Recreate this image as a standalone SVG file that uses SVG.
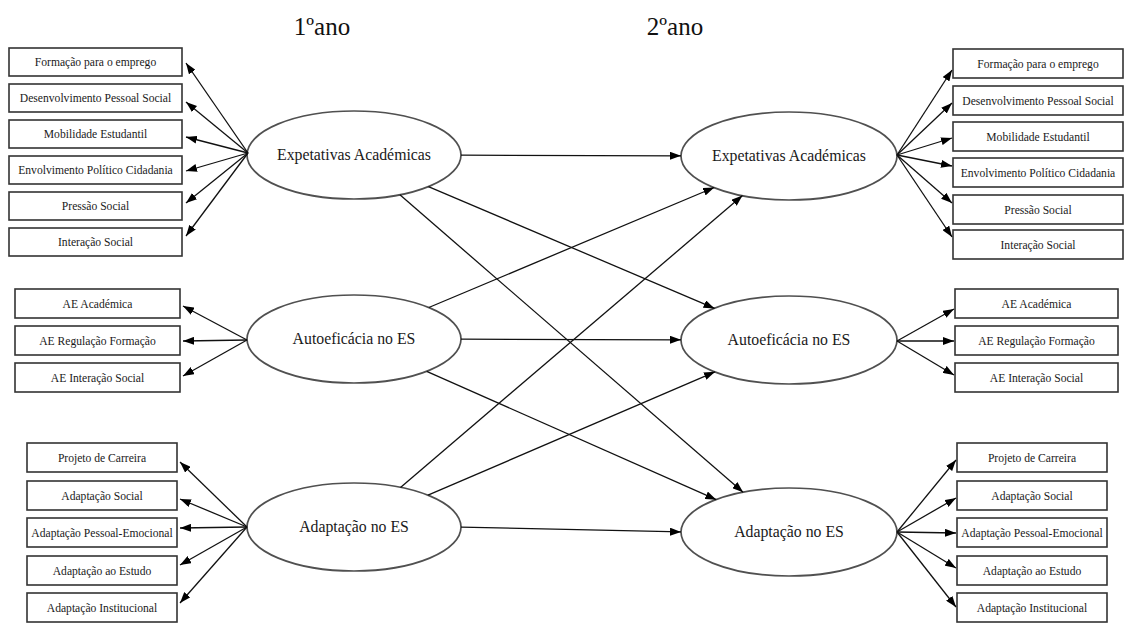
<svg xmlns="http://www.w3.org/2000/svg" width="1126" height="641" viewBox="0 0 1126 641">
  <style>
    .box { fill: #ffffff; stroke: #333333; stroke-width: 1.6; }
    .lat { fill: #ffffff; stroke: #505050; stroke-width: 1.7; }
    .btxt { font-family: "Liberation Serif", "Times New Roman", serif; font-size: 11.6px; fill: #1a1a1a; text-anchor: middle; }
    .ltxt { font-family: "Liberation Serif", "Times New Roman", serif; font-size: 15.8px; fill: #1a1a1a; text-anchor: middle; }
    .title { font-family: "Liberation Serif", "Times New Roman", serif; font-size: 25px; fill: #111111; text-anchor: middle; }
    .arr { stroke: #111111; stroke-width: 1.3; fill: none; marker-end: url(#head); }
  </style>
  <defs>
    <marker id="head" markerUnits="userSpaceOnUse" markerWidth="11" markerHeight="8" refX="11" refY="4" orient="auto">
      <path d="M0,0 L11,4 L0,8 z" fill="#000000"/>
    </marker>
  </defs>
  <rect width="1126" height="641" fill="#ffffff"/>

  <text class="title" x="322" y="35">1ºano</text>
  <text class="title" x="675" y="35">2ºano</text>

  <!-- year 1 indicators -->
  <g id="y1-expetativas-indicadores">
    <rect class="box" x="9" y="48" width="173" height="28"/><text class="btxt" x="95.5" y="66">Formação para o emprego</text>
    <rect class="box" x="9" y="84" width="173" height="28"/><text class="btxt" x="95.5" y="102">Desenvolvimento Pessoal Social</text>
    <rect class="box" x="9" y="120" width="173" height="28"/><text class="btxt" x="95.5" y="138">Mobilidade Estudantil</text>
    <rect class="box" x="9" y="156" width="173" height="28"/><text class="btxt" x="95.5" y="174">Envolvimento Político Cidadania</text>
    <rect class="box" x="9" y="192" width="173" height="28"/><text class="btxt" x="95.5" y="210">Pressão Social</text>
    <rect class="box" x="9" y="228" width="173" height="28"/><text class="btxt" x="95.5" y="246">Interação Social</text>
  </g>
  <g id="y1-autoeficacia-indicadores">
    <rect class="box" x="15" y="289" width="165" height="29"/><text class="btxt" x="97.5" y="307.5">AE Académica</text>
    <rect class="box" x="15" y="326" width="165" height="29"/><text class="btxt" x="97.5" y="344.5">AE Regulação Formação</text>
    <rect class="box" x="15" y="363" width="165" height="29"/><text class="btxt" x="97.5" y="381.5">AE Interação Social</text>
  </g>
  <g id="y1-adaptacao-indicadores">
    <rect class="box" x="27" y="443" width="150" height="29"/><text class="btxt" x="102" y="461.5">Projeto de Carreira</text>
    <rect class="box" x="27" y="481" width="150" height="29"/><text class="btxt" x="102" y="499.5">Adaptação Social</text>
    <rect class="box" x="27" y="518" width="150" height="29"/><text class="btxt" x="102" y="536.5">Adaptação Pessoal-Emocional</text>
    <rect class="box" x="27" y="556" width="150" height="29"/><text class="btxt" x="102" y="574.5">Adaptação ao Estudo</text>
    <rect class="box" x="27" y="593" width="150" height="29"/><text class="btxt" x="102" y="611.5">Adaptação Institucional</text>
  </g>

  <!-- year 2 indicators -->
  <g id="y2-expetativas-indicadores">
    <rect class="box" x="953" y="49" width="170" height="29"/><text class="btxt" x="1038" y="67.5">Formação para o emprego</text>
    <rect class="box" x="953" y="86" width="170" height="29"/><text class="btxt" x="1038" y="104.5">Desenvolvimento Pessoal Social</text>
    <rect class="box" x="953" y="122" width="170" height="29"/><text class="btxt" x="1038" y="140.5">Mobilidade Estudantil</text>
    <rect class="box" x="953" y="158" width="170" height="29"/><text class="btxt" x="1038" y="176.5">Envolvimento Político Cidadania</text>
    <rect class="box" x="953" y="195" width="170" height="29"/><text class="btxt" x="1038" y="213.5">Pressão Social</text>
    <rect class="box" x="953" y="230" width="170" height="29"/><text class="btxt" x="1038" y="248.5">Interação Social</text>
  </g>
  <g id="y2-autoeficacia-indicadores">
    <rect class="box" x="955" y="289" width="163" height="29"/><text class="btxt" x="1036.5" y="307.5">AE Académica</text>
    <rect class="box" x="955" y="326" width="163" height="29"/><text class="btxt" x="1036.5" y="344.5">AE Regulação Formação</text>
    <rect class="box" x="955" y="363" width="163" height="29"/><text class="btxt" x="1036.5" y="381.5">AE Interação Social</text>
  </g>
  <g id="y2-adaptacao-indicadores">
    <rect class="box" x="957" y="443" width="150" height="29"/><text class="btxt" x="1032" y="461.5">Projeto de Carreira</text>
    <rect class="box" x="957" y="481" width="150" height="29"/><text class="btxt" x="1032" y="499.5">Adaptação Social</text>
    <rect class="box" x="957" y="518" width="150" height="29"/><text class="btxt" x="1032" y="536.5">Adaptação Pessoal-Emocional</text>
    <rect class="box" x="957" y="556" width="150" height="29"/><text class="btxt" x="1032" y="574.5">Adaptação ao Estudo</text>
    <rect class="box" x="957" y="593" width="150" height="29"/><text class="btxt" x="1032" y="611.5">Adaptação Institucional</text>
  </g>

  <!-- latent factors -->
  <g id="y1-expetativas">
    <ellipse class="lat" cx="354" cy="155" rx="107" ry="44"/>
    <text class="ltxt" x="354" y="160">Expetativas Académicas</text>
  </g>
  <g id="y1-autoeficacia">
    <ellipse class="lat" cx="354" cy="339" rx="107" ry="44"/>
    <text class="ltxt" x="354" y="344">Autoeficácia no ES</text>
  </g>
  <g id="y1-adaptacao">
    <ellipse class="lat" cx="354" cy="527" rx="107" ry="44"/>
    <text class="ltxt" x="354" y="532">Adaptação no ES</text>
  </g>
  <g id="y2-expetativas">
    <ellipse class="lat" cx="789" cy="156" rx="108" ry="44"/>
    <text class="ltxt" x="789" y="161">Expetativas Académicas</text>
  </g>
  <g id="y2-autoeficacia">
    <ellipse class="lat" cx="789" cy="340" rx="108" ry="44"/>
    <text class="ltxt" x="789" y="345">Autoeficácia no ES</text>
  </g>
  <g id="y2-adaptacao">
    <ellipse class="lat" cx="789" cy="532" rx="108" ry="44"/>
    <text class="ltxt" x="789" y="537">Adaptação no ES</text>
  </g>

  <g id="connectors">
    <!-- loadings, year 1 -->
    <line class="arr" x1="248" y1="153" x2="186" y2="63"/>
    <line class="arr" x1="248" y1="153" x2="186" y2="102"/>
    <line class="arr" x1="248" y1="153" x2="186" y2="137"/>
    <line class="arr" x1="248" y1="153" x2="186" y2="171"/>
    <line class="arr" x1="248" y1="153" x2="186" y2="203"/>
    <line class="arr" x1="248" y1="153" x2="186" y2="236"/>

    <line class="arr" x1="247" y1="340" x2="183" y2="306"/>
    <line class="arr" x1="247" y1="340" x2="183" y2="341"/>
    <line class="arr" x1="247" y1="340" x2="183" y2="376"/>

    <line class="arr" x1="247" y1="527" x2="180" y2="462"/>
    <line class="arr" x1="247" y1="527" x2="180" y2="499"/>
    <line class="arr" x1="247" y1="527" x2="180" y2="528"/>
    <line class="arr" x1="247" y1="527" x2="180" y2="565"/>
    <line class="arr" x1="247" y1="527" x2="180" y2="603"/>

    <!-- loadings, year 2 -->
    <line class="arr" x1="897" y1="155" x2="952" y2="70"/>
    <line class="arr" x1="897" y1="155" x2="952" y2="103"/>
    <line class="arr" x1="897" y1="155" x2="952" y2="138"/>
    <line class="arr" x1="897" y1="155" x2="952" y2="166"/>
    <line class="arr" x1="897" y1="155" x2="952" y2="203"/>
    <line class="arr" x1="897" y1="155" x2="952" y2="237"/>

    <line class="arr" x1="897" y1="341" x2="954" y2="309"/>
    <line class="arr" x1="897" y1="341" x2="954" y2="341"/>
    <line class="arr" x1="897" y1="341" x2="954" y2="375"/>

    <line class="arr" x1="897" y1="532" x2="956" y2="460"/>
    <line class="arr" x1="897" y1="532" x2="956" y2="498"/>
    <line class="arr" x1="897" y1="532" x2="956" y2="533"/>
    <line class="arr" x1="897" y1="532" x2="956" y2="568"/>
    <line class="arr" x1="897" y1="532" x2="956" y2="607"/>

    <!-- cross-lagged paths -->
    <line class="arr" x1="461" y1="155.2" x2="681" y2="155.8"/>
    <line class="arr" x1="428.4" y1="186.6" x2="714.6" y2="308.4"/>
    <line class="arr" x1="399.9" y1="194.8" x2="743.1" y2="492.3"/>
    <line class="arr" x1="428.8" y1="307.5" x2="714.2" y2="187.5"/>
    <line class="arr" x1="461" y1="339.2" x2="681" y2="339.8"/>
    <line class="arr" x1="426.7" y1="371.3" x2="716.3" y2="499.7"/>
    <line class="arr" x1="400.5" y1="487.4" x2="742.5" y2="195.6"/>
    <line class="arr" x1="428" y1="495.2" x2="715" y2="371.8"/>
    <line class="arr" x1="461" y1="527.1" x2="681" y2="531.9"/>
  </g>
</svg>
